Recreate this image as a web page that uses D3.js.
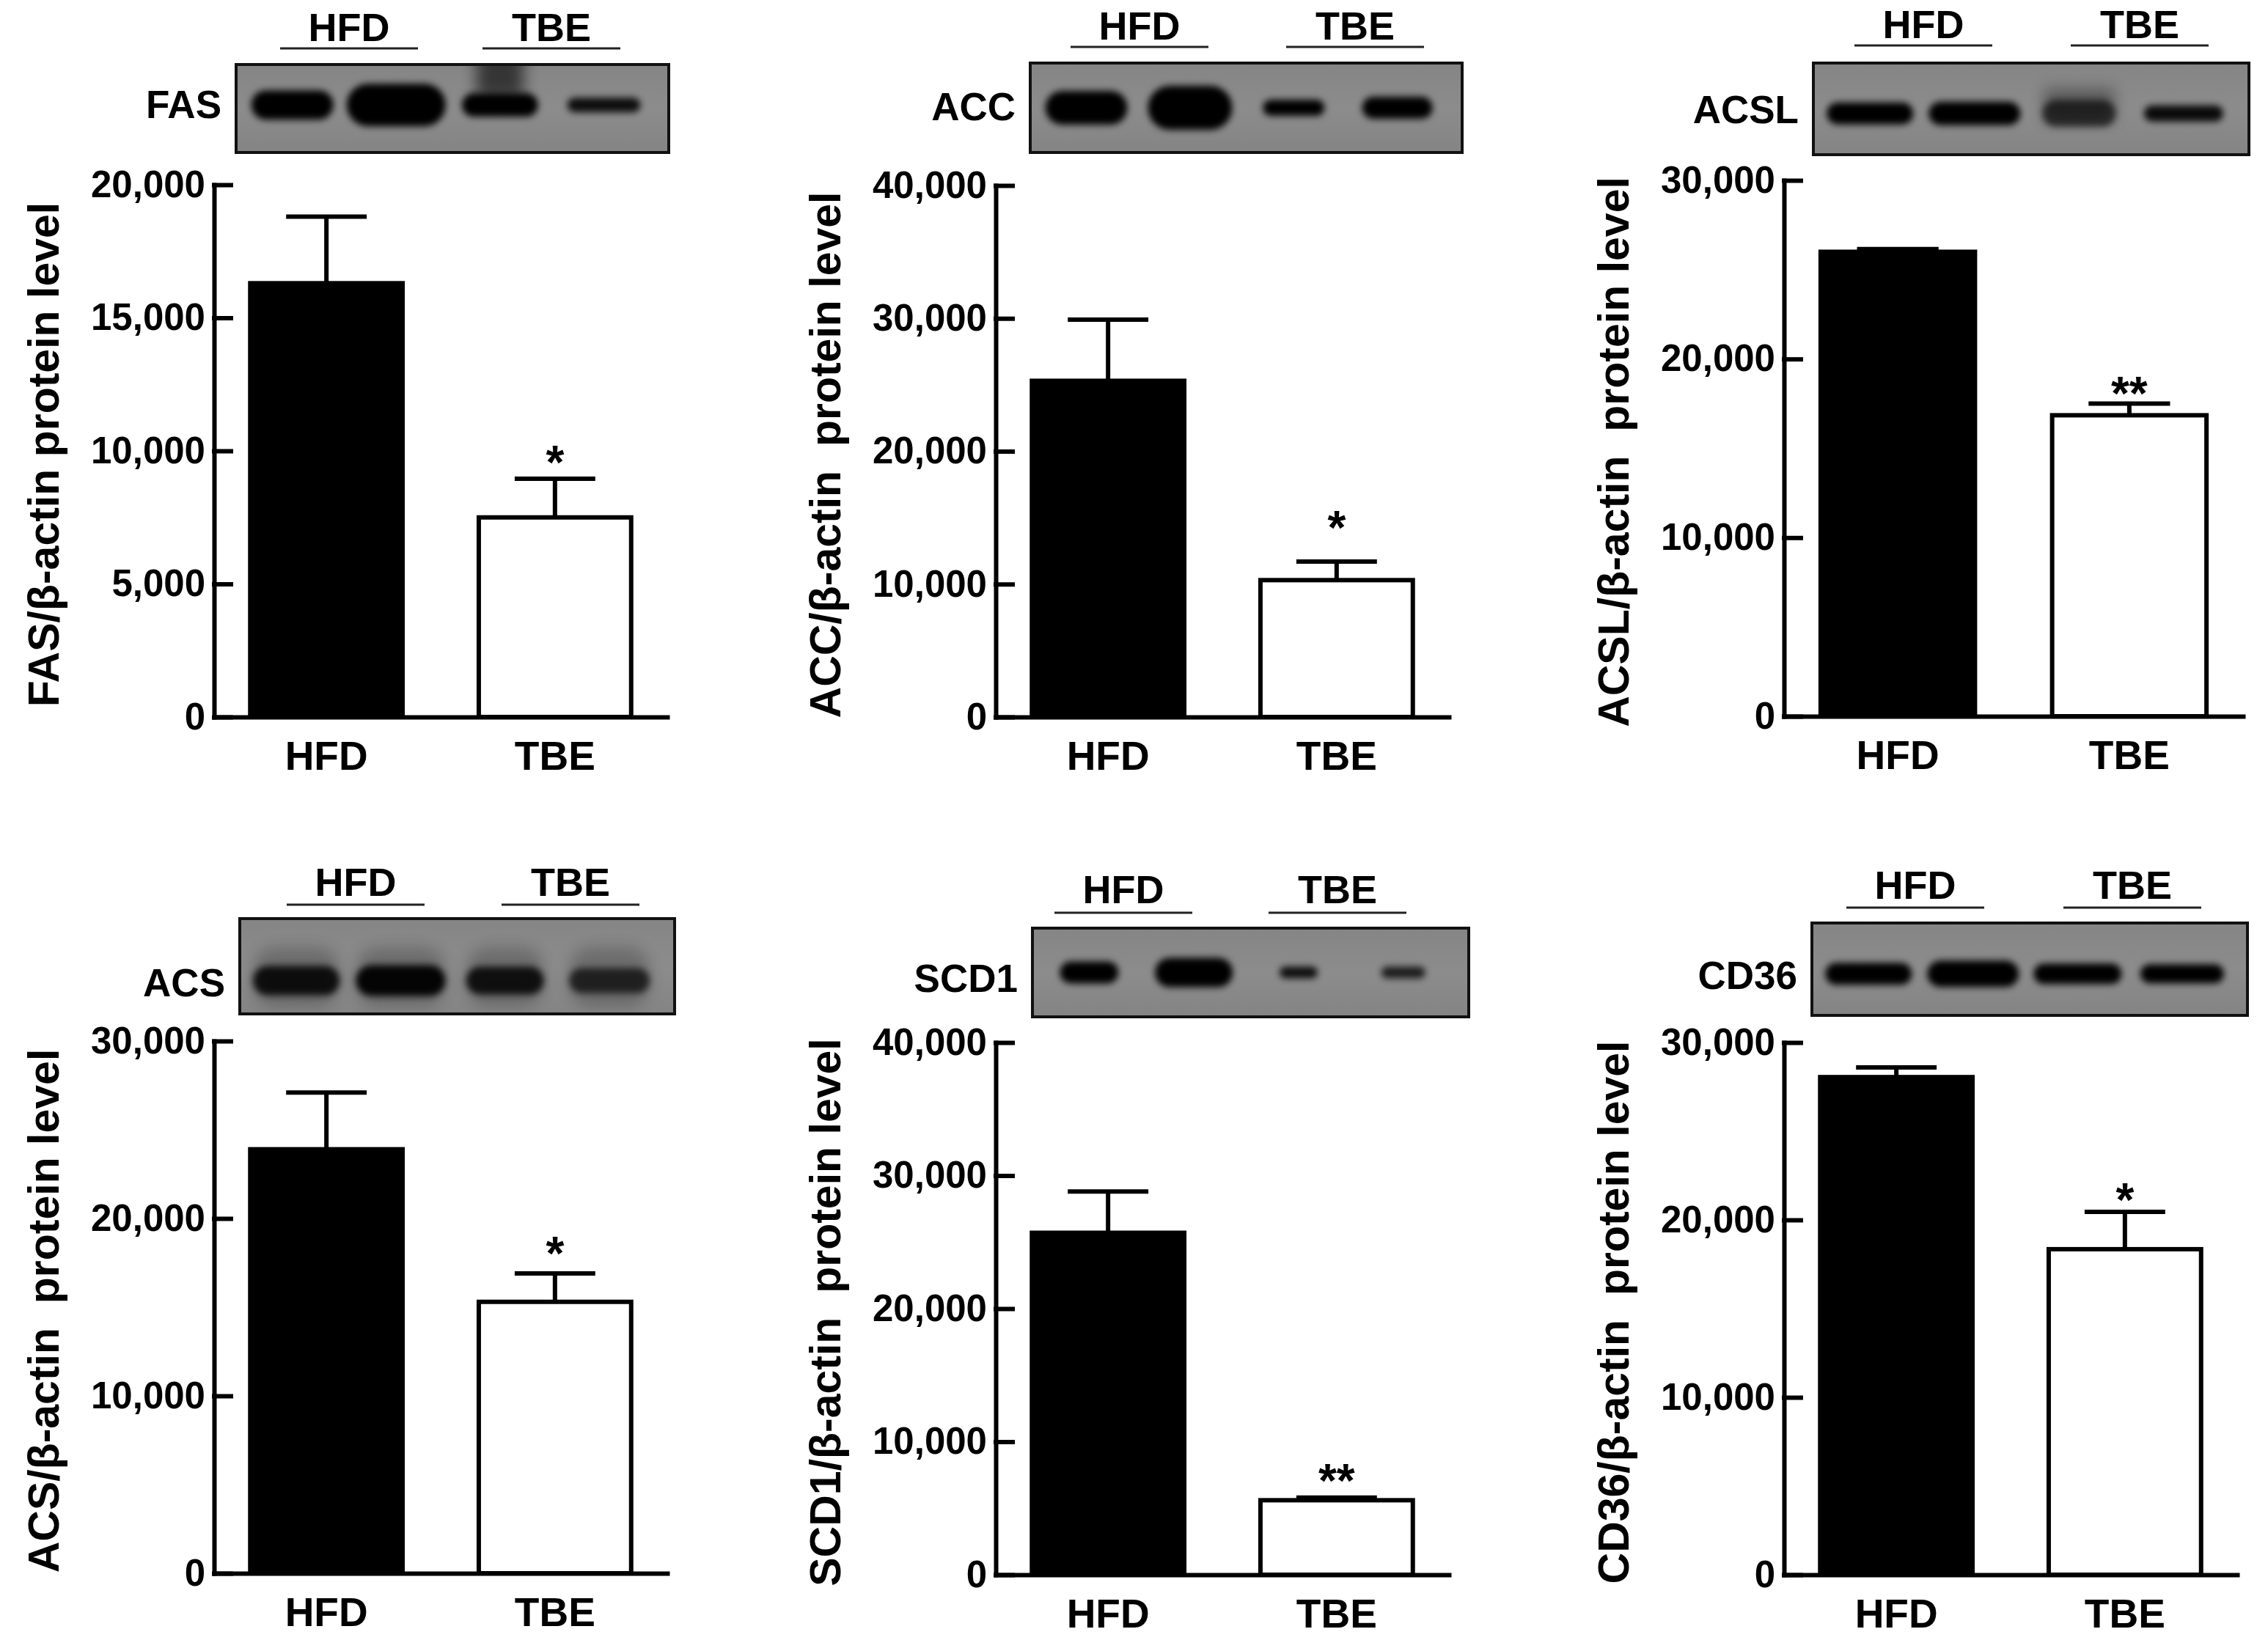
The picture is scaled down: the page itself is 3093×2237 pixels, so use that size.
<!DOCTYPE html>
<html><head><meta charset="utf-8">
<script src="https://cdn.jsdelivr.net/npm/d3@7"></script>
<style>
body{margin:0;background:#fff}
svg text{font-family:"Liberation Sans",Arial,sans-serif;font-weight:bold;fill:#000}
</style>
</head><body>
<svg id="c" width="3093" height="2237"></svg>
<script>
// ---------------- data ----------------
const categories = ["HFD", "TBE"];
const proteins = ["FAS", "ACC", "ACSL", "ACS", "SCD1", "CD36"];
const yLabels = [
  "FAS/β-actin protein level",
  "ACC/β-actin  protein level",
  "ACSL/β-actin  protein level",
  "ACS/β-actin  protein level",
  "SCD1/β-actin  protein level",
  "CD36/β-actin  protein level"
];
const yMax = [20000, 40000, 30000, 30000, 40000, 30000];
const yTicks = [
  [0, 5000, 10000, 15000, 20000],
  [0, 10000, 20000, 30000, 40000],
  [0, 10000, 20000, 30000],
  [0, 10000, 20000, 30000],
  [0, 10000, 20000, 30000, 40000],
  [0, 10000, 20000, 30000]
];
const hfdMean = [16300, 25300, 26000, 23900, 25700, 28050];
const hfdErr  = [2500, 4600, 150, 3200, 3100, 550];
const tbeMean = [7500, 10300, 16850, 15300, 5600, 18350];
const tbeErr  = [1450, 1400, 650, 1600, 200, 2100];
const sigMarks = ["*", "*", "**", "*", "**", "*"];
const sigAt = [9900, 14900, 18570, 18500, 7700, 21600];   // value level of the significance mark

// western blot band appearance per lane (4 lanes: HFD, HFD, TBE, TBE)
const bandWidth = [
  [112, 135, 104, 100], [112, 115, 84, 96], [118, 125, 100, 108],
  [118, 122, 106, 110], [80, 106, 52, 60], [118, 125, 120, 114]
];
const bandHeight = [
  [40, 58, 32, 20], [46, 60, 22, 30], [30, 32, 36, 22],
  [40, 42, 38, 34], [30, 40, 16, 16], [30, 36, 28, 26]
];
const bandDensity = [
  [1, 1, 1, 0.9], [1, 1, 1, 1], [1, 1, 0.65, 0.92],
  [0.88, 0.96, 0.86, 0.7], [1, 1, 0.9, 0.8], [1, 1, 1, 1]
];

// ---------------- layout ----------------
const axisX = [292, 1358, 2433, 292, 1358, 2433];
const topY  = [252, 253, 246, 1420, 1422, 1422];
const zeroY = [978, 978, 977, 2146, 2148, 2148];
const plotW = [618, 618, 626, 618, 618, 618];
const blotX = [[30, 620], [47, 636], [40, 634], [35, 628], [50, 645], [38, 632]];
const blotY = [[88, 208], [86, 208], [86, 211], [1253, 1383], [1266, 1387], [1259, 1385]];
const bandYFrac = [0.46, 0.5, 0.55, 0.65, 0.5, 0.55];
const laneFrac = [0.13, 0.85];
const blotLabelY = [142, 145, 149, 1340, 1334, 1330];
const groupCenters = [[184, 460], [196, 490], [190, 485], [193, 486], [174, 466], [179, 475]];
const groupLineY = [66, 64, 62, 1234, 1245, 1238];
const groupLabelY = [37, 35, 33, 1203, 1213, 1207];

const svg = d3.select("#c");
svg.append("rect").attr("width", 3093).attr("height", 2237).attr("fill", "#fff");
const defs = svg.append("defs");
function blurFilter(id, sd) {
  defs.append("filter").attr("id", id).attr("x", "-60%").attr("y", "-150%")
    .attr("width", "220%").attr("height", "400%")
    .append("feGaussianBlur").attr("stdDeviation", sd);
}
blurFilter("blur", 5);
blurFilter("blur2", 10);

const fmt = d3.format(",");

proteins.forEach((p, i) => {
  const ax = axisX[i];
  const g = svg.append("g");
  const y = d3.scaleLinear().domain([0, yMax[i]]).range([zeroY[i], topY[i]]);
  const x = d3.scaleBand().domain(categories).range([ax, ax + plotW[i]])
    .paddingInner(1 / 3).paddingOuter(0.158);

  const rows = categories.map((c, k) => ({
    c, k,
    v: k === 0 ? hfdMean[i] : tbeMean[i],
    e: k === 0 ? hfdErr[i] : tbeErr[i]
  }));
  const bw = x.bandwidth();
  // error bars
  rows.forEach(r => {
    const cx = x(r.c) + bw / 2;
    g.append("line").attr("x1", cx).attr("x2", cx)
      .attr("y1", y(r.v)).attr("y2", y(r.v + r.e))
      .attr("stroke", "#000").attr("stroke-width", 6);
    g.append("line").attr("x1", cx - bw * 0.25).attr("x2", cx + bw * 0.25)
      .attr("y1", y(r.v + r.e)).attr("y2", y(r.v + r.e))
      .attr("stroke", "#000").attr("stroke-width", 6).attr("stroke-linecap", "square");
  });
  // bars
  g.selectAll(".bar").data(rows).join("rect")
    .attr("x", d => x(d.c)).attr("width", bw)
    .attr("y", d => y(d.v)).attr("height", d => y(0) - y(d.v))
    .attr("fill", d => d.k === 0 ? "#000" : "#fff")
    .attr("stroke", "#000").attr("stroke-width", 6);

  // significance mark
  g.append("text").attr("x", x("TBE") + bw / 2).attr("y", y(sigAt[i]) + 34)
    .attr("text-anchor", "middle").attr("font-size", 64).text(sigMarks[i]);

  // y axis
  const ya = g.append("g").attr("transform", `translate(${ax},0)`)
    .call(d3.axisLeft(y).tickValues(yTicks[i]).tickFormat(fmt)
      .tickSizeInner(-23).tickSizeOuter(0).tickPadding(12));
  ya.attr("font-size", 51).attr("font-family", null);
  ya.selectAll("path,line").attr("stroke", "#000").attr("stroke-width", 6)
    .attr("stroke-linecap", "square");
  ya.selectAll("text").attr("fill", "#000");

  // x axis
  const xa = g.append("g").attr("transform", `translate(0,${zeroY[i]})`)
    .call(d3.axisBottom(x).tickSizeInner(0).tickSizeOuter(0).tickPadding(33));
  xa.attr("font-size", 55).attr("font-family", null);
  xa.select(".domain").attr("stroke", "#000").attr("stroke-width", 6)
    .attr("stroke-linecap", "square");
  xa.selectAll("text").attr("fill", "#000");

  // y label
  g.append("text")
    .attr("transform", `translate(${ax - 232},${(topY[i] + zeroY[i]) / 2 + 5}) rotate(-90)`)
    .attr("text-anchor", "middle").attr("dominant-baseline", "central")
    .attr("font-size", 59).style("white-space", "pre").text(yLabels[i]);

  // western blot
  const bx0 = ax + blotX[i][0], bx1 = ax + blotX[i][1];
  const by0 = blotY[i][0], by1 = blotY[i][1];
  const bwid = bx1 - bx0, bh = by1 - by0;
  const clipId = "clip" + i;
  defs.append("clipPath").attr("id", clipId).append("rect")
    .attr("x", bx0).attr("y", by0).attr("width", bwid).attr("height", bh);
  const grad = defs.append("linearGradient").attr("id", "bg" + i)
    .attr("x1", 0).attr("y1", 0).attr("x2", 0).attr("y2", 1);
  grad.append("stop").attr("offset", 0).attr("stop-color", "#858585");
  grad.append("stop").attr("offset", 0.5).attr("stop-color", "#8c8c8c");
  grad.append("stop").attr("offset", 1).attr("stop-color", "#848484");
  g.append("rect").attr("x", bx0).attr("y", by0).attr("width", bwid).attr("height", bh)
    .attr("fill", `url(#bg${i})`);
  const lane = d3.scalePoint().domain([0, 1, 2, 3])
    .range([bx0 + laneFrac[0] * bwid, bx0 + laneFrac[1] * bwid]);
  const bandY = by0 + bandYFrac[i] * bh;
  const bg = g.append("g").attr("clip-path", `url(#${clipId})`);
  if (p === "FAS") {
    bg.append("rect").attr("x", lane(2) - 32).attr("y", by0 - 20).attr("width", 64)
      .attr("height", bandY - by0 + 10).attr("fill", "#000").attr("opacity", 0.6)
      .attr("filter", "url(#blur2)");
  }
  if (p === "ACSL") {
    bg.append("rect").attr("x", lane(2) - 48).attr("y", bandY - 34).attr("width", 96)
      .attr("height", 44).attr("fill", "#000").attr("opacity", 0.35)
      .attr("filter", "url(#blur2)");
  }
  if (p === "ACS") {
    bg.selectAll(".halo").data([0, 1, 2, 3]).join("rect")
      .attr("x", l => lane(l) - bandWidth[i][l] / 2)
      .attr("y", bandY - 45).attr("width", l => bandWidth[i][l]).attr("height", 80)
      .attr("rx", 30).attr("fill", "#000").attr("opacity", 0.22).attr("filter", "url(#blur2)");
  }
  bg.selectAll(".band").data([0, 1, 2, 3]).join("rect")
    .attr("x", l => lane(l) - bandWidth[i][l] / 2)
    .attr("y", l => bandY - bandHeight[i][l] / 2)
    .attr("width", l => bandWidth[i][l]).attr("height", l => bandHeight[i][l])
    .attr("rx", l => bandHeight[i][l] / 2)
    .attr("fill", "#000").attr("opacity", l => bandDensity[i][l])
    .attr("filter", "url(#blur)");
  g.append("rect").attr("x", bx0).attr("y", by0).attr("width", bwid).attr("height", bh)
    .attr("fill", "none").attr("stroke", "#111").attr("stroke-width", 4);

  // blot label
  g.append("text").attr("x", bx0 - 20).attr("y", blotLabelY[i])
    .attr("text-anchor", "end").attr("dominant-baseline", "central")
    .attr("font-size", 53).text(p);

  // group labels above blot
  categories.forEach((c, k) => {
    const cx = ax + groupCenters[i][k];
    g.append("line").attr("x1", cx - 94).attr("x2", cx + 94)
      .attr("y1", groupLineY[i]).attr("y2", groupLineY[i])
      .attr("stroke", "#222").attr("stroke-width", 3);
    g.append("text").attr("x", cx).attr("y", groupLabelY[i])
      .attr("text-anchor", "middle").attr("dominant-baseline", "central")
      .attr("font-size", 54).text(c);
  });
});
</script>
</body></html>
